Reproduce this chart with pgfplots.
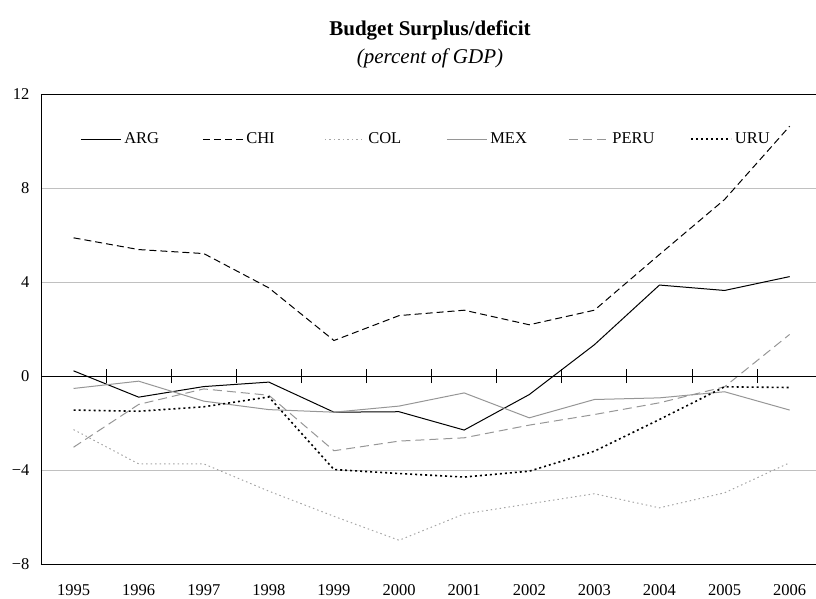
\documentclass[border=0pt]{standalone}
\usepackage{fontspec}
\setmainfont{Liberation Serif}
\usepackage{pgfplots}
\pgfplotsset{compat=1.18}
\definecolor{gridgray}{RGB}{192,192,192}
\definecolor{colgray}{RGB}{165,165,165}
\definecolor{midgray}{RGB}{150,150,150}

% budget balance, percent of GDP, 1995..2006 (x = 0..11)
\pgfplotstableread{
x  ARG    CHI    COL    MEX    PERU   URU
0  0.22   5.88  -2.28  -0.53  -3.03  -1.45
1  -0.90  5.38  -3.74  -0.22  -1.21  -1.50
2  -0.45  5.21  -3.74  -1.07  -0.55  -1.31
3  -0.26  3.75  -4.90  -1.43  -0.82  -0.89
4  -1.54  1.51  -5.97  -1.54  -3.18  -3.98
5  -1.52  2.57  -6.99  -1.28  -2.77  -4.15
6  -2.30  2.80  -5.87  -0.72  -2.63  -4.30
7  -0.79  2.18  -5.44  -1.78  -2.09  -4.05
8  1.33   2.80  -5.01  -1.00  -1.64  -3.20
9  3.87   5.17  -5.61  -0.93  -1.14  -1.85
10 3.64   7.51  -4.97  -0.67  -0.46  -0.46
11 4.23   10.63 -3.69  -1.45  1.77   -0.49
}\budget

\newcommand{\basefont}{\fontsize{16.5}{19}\selectfont}

\pgfplotsset{
  budgetbox/.style={
    scale only axis, width=774.7pt, height=470pt,
    at={(0pt,0pt)}, anchor=south west,
    xmin=-0.5, xmax=11.4, ymin=-8, ymax=12,
  },
}

\begin{document}
\begin{tikzpicture}[font=\basefont]
\useasboundingbox (-41pt,-34pt) rectangle (775pt,564pt);
\begin{axis}[
    budgetbox,
    separate axis lines,
    axis x line*=box, axis y line*=left,
    axis line style={black, line width=0.9pt},
    xtick={0,...,11},
    xticklabels={1995,1996,1997,1998,1999,2000,2001,2002,2003,2004,2005,2006},
    ytick={-8,-4,0,4,8,12},
    yticklabels={−8,−4,0,4,8,12},
    major tick length=0pt,
    ymajorgrids, grid style={gridgray, line width=0.8pt},
    tick label style={font=\basefont},
    xticklabel style={yshift=-17pt},
    yticklabel style={xshift=-8pt},
    legend columns=6,
    legend style={at={(0.0505,0.904)}, anchor=west, draw=none, fill=none,
      font=\basefont, inner sep=0pt,
      nodes={inner sep=0pt},
      /tikz/every even column/.append style={column sep=5pt},
      /tikz/every odd column/.append style={column sep=3pt}},
    legend image code/.code={\draw[#1] (0pt,0pt) -- (40pt,0pt);},
]
\addplot[black, line width=1pt] table[x=x, y=ARG] {\budget};
\addlegendentry{\makebox[73pt][l]{ARG}}
\addplot[black, line width=1pt, dash pattern=on 7pt off 4pt] table[x=x, y=CHI] {\budget};
\addlegendentry{\makebox[73pt][l]{CHI}}
\addplot[colgray, line width=1pt, dash pattern=on 1.5pt off 3pt] table[x=x, y=COL] {\budget};
\addlegendentry{\makebox[73pt][l]{COL}}
\addplot[midgray, line width=1pt] table[x=x, y=MEX] {\budget};
\addlegendentry{\makebox[73pt][l]{MEX}}
\addplot[midgray, line width=1pt, dash pattern=on 9pt off 5pt] table[x=x, y=PERU] {\budget};
\addlegendentry{\makebox[73pt][l]{PERU}}
\addplot[black, line width=1.6pt, dash pattern=on 2pt off 3pt] table[x=x, y=URU] {\budget};
\addlegendentry{\makebox[73pt][l]{URU}}
\end{axis}
% zero line with category separators
\begin{axis}[
    budgetbox,
    axis x line=middle, axis y line=none,
    axis line style={-, black, line width=0.9pt},
    xtick={0.5,1.5,...,10.5}, xticklabel=\empty,
    ytick=\empty,
    tick align=center, major tick length=14pt,
    tick style={black, line width=0.9pt},
]
\end{axis}
\node[font=\fontsize{21}{25}\selectfont\bfseries] at (389pt,534pt) {Budget Surplus/deficit};
\node[font=\fontsize{21}{25}\selectfont\itshape] at (389pt,506pt) {(percent of GDP)};
\end{tikzpicture}
\end{document}
